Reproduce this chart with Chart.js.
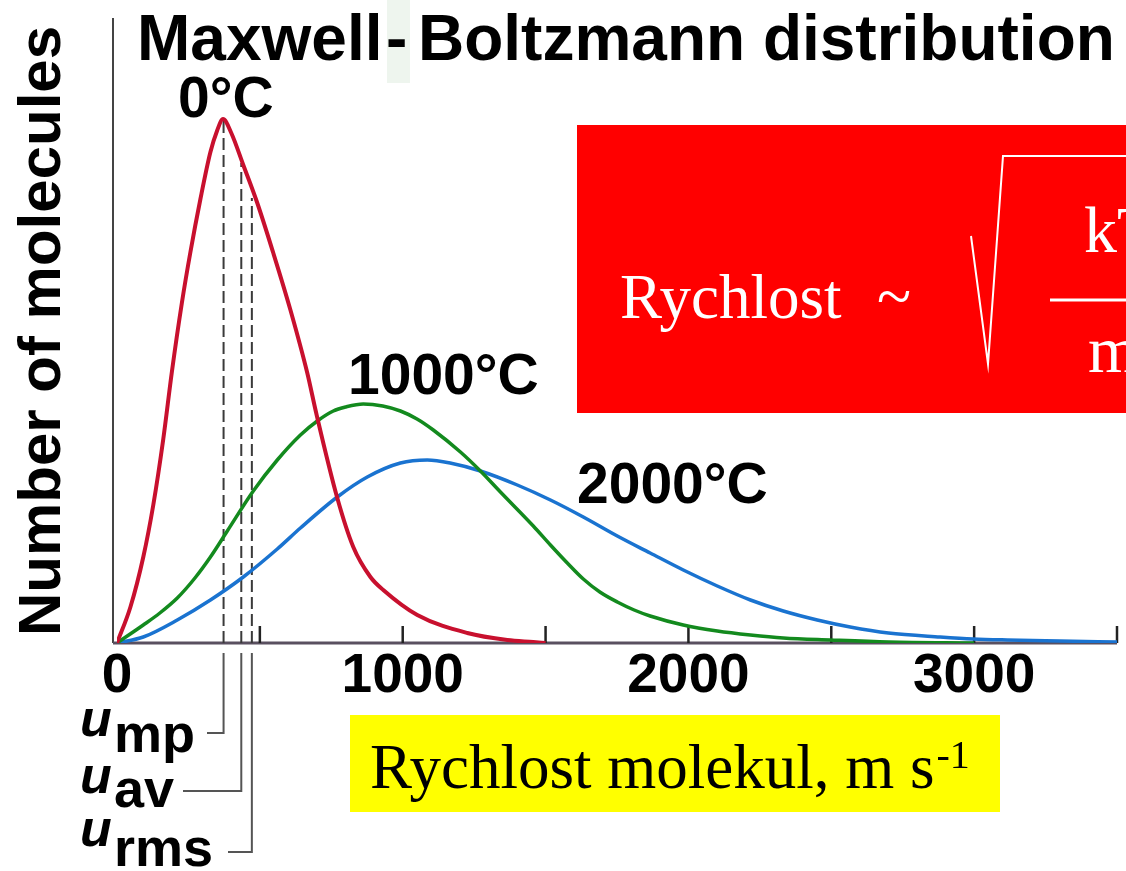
<!DOCTYPE html>
<html>
<head>
<meta charset="utf-8">
<title>Maxwell-Boltzmann distribution</title>
<script src="https://cdn.jsdelivr.net/npm/chart.js@4/dist/chart.umd.min.js"></script>
<style>
  html, body { margin: 0; padding: 0; background: #fff; }
  canvas { display: block; }
</style>
</head>
<body>
<canvas id="myChart" width="1126" height="871"></canvas>
<script>
'use strict'

const redSpeeds = [0, 47, 92, 127, 162, 192, 227, 257, 292, 327, 350, 371, 400, 442, 491, 547, 607, 666, 698, 771, 827, 887, 932, 1051, 1226, 1366, 1457, 1500];
const redValues = [0, 36, 86, 138, 204, 271, 340, 391, 444, 491, 512, 524, 510, 478, 440, 390, 333, 270, 229, 145, 96, 66, 53, 28, 10, 3, 1, 0];

const greenSpeeds = [0, 92, 150, 211, 270, 327, 386, 477, 561, 642, 701, 757, 800, 862, 930, 992, 1050, 1107, 1202, 1272, 1342, 1457, 1517, 1576, 1632, 1690, 1751, 1810, 1866, 1982, 2101, 2217, 2332, 2497, 2700, 3000];
const greenValues = [0, 18, 30, 45, 64, 86, 112, 152, 183, 208, 222, 232, 236, 239, 237, 232, 224, 213, 191, 172, 151, 117, 98, 80, 64, 51, 41, 33, 27, 18, 12, 8, 5, 3, 1, 0];

const blueSpeeds = [0, 92, 211, 327, 442, 561, 642, 771, 876, 992, 1086, 1166, 1272, 1401, 1517, 1632, 1751, 1866, 1982, 2101, 2217, 2332, 2451, 2566, 2700, 2881, 2997, 3116, 3300, 3500];
const blueValues = [0, 6, 23, 43, 66, 94, 115, 146, 166, 180, 183, 180, 172, 158, 143, 126, 107, 90, 73, 57, 43, 32, 23, 16, 10, 6, 4, 3, 2, 1];

const seriesNames = ['0°C', '1000°C', '2000°C'];

// u_mp, u_av, u_rms at 0°C and how high the dashed line reaches
const uNames = ['mp', 'av', 'rms'];
const uSpeeds = [373, 435, 472];
const uTops = [522, 480, 445];

const xTicks = [500, 1000, 1500, 2000, 2500, 3000, 3500];
const xTickLabels = [0, 1000, 2000, 3000];

function points(xs, ys) {
  return xs.map((x, i) => ({ x: x, y: ys[i] }));
}

const dashSets = uSpeeds.map((u, i) => ({
  label: 'u' + uNames[i],
  data: [{ x: u, y: 0 }, { x: u, y: uTops[i] }],
  borderColor: '#3a3a3a',
  borderWidth: 2,
  borderDash: [12, 5],
  pointRadius: 0
}));

const decor = {
  id: 'decor',
  beforeDraw(chart) {
    const ctx = chart.ctx;
    ctx.save();
    ctx.fillStyle = '#fff';
    ctx.fillRect(0, 0, chart.width, chart.height);
    ctx.fillStyle = '#eef5ee';
    ctx.fillRect(387, 0, 23, 83);
    ctx.fillStyle = '#ff0000';
    ctx.fillRect(577, 125, 549, 288);
    ctx.fillStyle = '#ffff00';
    ctx.fillRect(350, 715, 650, 97);
    ctx.restore();
  },
  beforeDatasetsDraw(chart) {
    const ctx = chart.ctx;
    const x = chart.scales.x;
    const y = chart.scales.y;
    const y0 = y.getPixelForValue(0);
    ctx.save();
    ctx.strokeStyle = '#444';
    ctx.lineWidth = 2;
    ctx.beginPath();
    ctx.moveTo(113, y.getPixelForValue(625));
    ctx.lineTo(113, y0);
    ctx.stroke();
    ctx.strokeStyle = '#5a5060';
    ctx.lineWidth = 3;
    ctx.beginPath();
    ctx.moveTo(113, y0);
    ctx.lineTo(x.getPixelForValue(3500), y0);
    ctx.stroke();
    ctx.strokeStyle = '#222';
    ctx.lineWidth = 2.5;
    xTicks.forEach(t => {
      const px = x.getPixelForValue(t);
      ctx.beginPath();
      ctx.moveTo(px, y0);
      ctx.lineTo(px, y0 - 17);
      ctx.stroke();
    });
    ctx.restore();
  },
  afterDraw(chart) {
    const ctx = chart.ctx;
    const x = chart.scales.x;
    ctx.save();

    ctx.fillStyle = '#000';
    ctx.textBaseline = 'alphabetic';
    ctx.textAlign = 'left';
    ctx.font = 'bold 64px "Liberation Sans", Arial, sans-serif';
    ctx.fillText('Maxwell', 137, 60);
    ctx.fillText('-', 386, 60);
    ctx.fillText('Boltzmann distribution', 418, 60);

    ctx.font = 'bold 57px "Liberation Sans", Arial, sans-serif';
    ctx.fillText(seriesNames[0], 178, 117);
    ctx.fillText(seriesNames[1], 348, 394);
    ctx.fillText(seriesNames[2], 577, 503);

    // axis title
    ctx.save();
    ctx.translate(60, 331);
    ctx.rotate(-Math.PI / 2);
    ctx.textAlign = 'center';
    ctx.font = 'bold 60px "Liberation Sans", Arial, sans-serif';
    ctx.fillText('Number of molecules', 0, 0);
    ctx.restore();

    ctx.textAlign = 'center';
    ctx.font = 'bold 55px "Liberation Sans", Arial, sans-serif';
    xTickLabels.forEach(t => {
      ctx.fillText(String(t), x.getPixelForValue(t), 692);
    });

    // u_mp / u_av / u_rms brackets under the axis
    const lineY = [733, 791, 852];
    const lineEnd = [207, 183, 228];
    const uBase = [736, 793, 846];
    const subBase = [752, 807, 866];
    ctx.strokeStyle = '#555';
    ctx.lineWidth = 2;
    uSpeeds.forEach((u, i) => {
      const px = x.getPixelForValue(u);
      ctx.beginPath();
      ctx.moveTo(px, 653);
      ctx.lineTo(px, lineY[i]);
      ctx.lineTo(lineEnd[i], lineY[i]);
      ctx.stroke();
      ctx.textAlign = 'left';
      ctx.font = 'italic bold 52px "Liberation Sans", Arial, sans-serif';
      ctx.fillText('u', 80, uBase[i]);
      ctx.font = 'bold 54px "Liberation Sans", Arial, sans-serif';
      ctx.fillText(uNames[i], 114, subBase[i]);
    });

    // red formula box
    ctx.fillStyle = '#fff';
    ctx.strokeStyle = '#fff';
    ctx.font = '63px "Liberation Serif", "Times New Roman", serif';
    ctx.fillText('Rychlost', 620, 318);
    ctx.fillText('~', 877, 318);
    ctx.lineWidth = 2;
    ctx.beginPath();
    ctx.moveTo(971, 236);
    ctx.lineTo(988, 364);
    ctx.lineTo(1003, 156);
    ctx.lineTo(1126, 156);
    ctx.stroke();
    ctx.lineWidth = 3;
    ctx.beginPath();
    ctx.moveTo(1050, 300);
    ctx.lineTo(1126, 300);
    ctx.stroke();
    ctx.font = '66px "Liberation Serif", "Times New Roman", serif';
    ctx.fillText('kT', 1084, 252);
    ctx.fillText('m', 1088, 372);

    // yellow axis label
    ctx.fillStyle = '#000';
    ctx.font = '63px "Liberation Serif", "Times New Roman", serif';
    const lab = 'Rychlost molekul, m s';
    ctx.fillText(lab, 370, 788);
    const w = ctx.measureText(lab).width;
    ctx.font = '40px "Liberation Serif", "Times New Roman", serif';
    ctx.fillText('-1', 370 + w + 2, 768);

    ctx.restore();
  }
};

const ctx = document.getElementById('myChart').getContext('2d');
const chart = new Chart(ctx, {
  type: 'line',
  data: {
    datasets: [
      {
        label: seriesNames[0],
        data: points(redSpeeds, redValues),
        borderColor: '#c8102e',
        borderWidth: 4,
        pointRadius: 0,
        cubicInterpolationMode: 'monotone'
      },
      {
        label: seriesNames[1],
        data: points(greenSpeeds, greenValues),
        borderColor: '#138a1e',
        borderWidth: 3.5,
        pointRadius: 0,
        cubicInterpolationMode: 'monotone'
      },
      {
        label: seriesNames[2],
        data: points(blueSpeeds, blueValues),
        borderColor: '#1a73d0',
        borderWidth: 3.5,
        pointRadius: 0,
        cubicInterpolationMode: 'monotone'
      }
    ].concat(dashSets)
  },
  options: {
    responsive: false,
    animation: false,
    layout: { padding: { left: 117, right: 9, top: 18, bottom: 228 } },
    plugins: {
      legend: { display: false },
      tooltip: { enabled: false }
    },
    scales: {
      x: { type: 'linear', min: 0, max: 3500, display: false },
      y: { min: 0, max: 625, display: false }
    }
  },
  plugins: [decor]
});
</script>
</body>
</html>
